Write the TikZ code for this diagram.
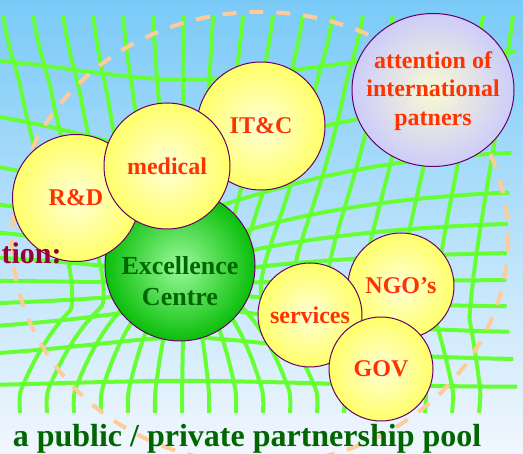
\documentclass[tikz,border=0pt]{standalone}
\usepackage{fontspec}
\setmainfont{Liberation Serif}
\usetikzlibrary{shapes.geometric}

\definecolor{skytop}{RGB}{122,202,248}
\definecolor{skybot}{RGB}{242,247,253}
\definecolor{meshgreen}{RGB}{102,255,51}
\definecolor{peach}{RGB}{255,204,153}
\definecolor{rimpurple}{RGB}{102,0,102}
\definecolor{labelred}{RGB}{255,51,0}
\definecolor{leafgreen}{RGB}{0,102,0}
\definecolor{ballin}{RGB}{155,250,155}
\definecolor{ballout}{RGB}{10,190,10}
\definecolor{bubblein}{RGB}{255,255,215}
\definecolor{bubbleout}{RGB}{255,255,105}
\definecolor{lilacin}{RGB}{250,250,212}
\definecolor{lilacout}{RGB}{204,204,250}
\definecolor{wine}{RGB}{153,0,51}

\begin{document}
\begin{tikzpicture}[x=1pt,y=-1pt,
  meshline/.style={draw=meshgreen,line width=4pt},
  poolring/.style={draw=peach,line width=4pt,dash pattern=on 14pt off 13pt},
  bubble/.style={circle,draw=rimpurple,line width=1pt,inner sep=0pt,
    shading=radial,inner color=bubblein,outer color=bubbleout,
    text=labelred,font=\fontsize{24}{28.8}\selectfont\bfseries,align=center},
  bubbletext/.style={text=labelred,font=\fontsize{24}{28.8}\selectfont\bfseries,align=center},
  declare function={
    flat(\py)=min(1,max(0,(395-\py)/75),max(0,(\py-15)/45));
    pull(\px,\py)=0.75*exp(-(((\px-185)/190)*((\px-185)/190)+((\py-285)/190)*((\py-285)/190)))*flat(\py);
    mx(\px,\py)=\px-pull(\px,\py)*(\px-185);
    my(\px,\py)=\py-pull(\px,\py)*(\py-285);
  }]
\useasboundingbox (0,0) rectangle (523,454);
\shade[top color=skytop,bottom color=skybot] (0,0) rectangle (523,454);

% warped mesh
\begin{scope}
  \clip (0,0) rectangle (523,454);
  \foreach \i in {0,...,17}
    \draw[meshline] plot[smooth,domain=0:1,samples=40,variable=\t]
      ({mx(3+30*\i+(17-3*\i)*\t,15+398*\t)},{my(3+30*\i+(17-3*\i)*\t,15+398*\t)});
  \foreach \h in {50,100,150,190,222,252,280,307,333,360,387}
    \draw[meshline] plot[smooth,domain=-200:518,samples=50]
      ({mx(\x,\h)},{my(\x,\h)});
\end{scope}

\draw[poolring] (260,238) ellipse [x radius=248,y radius=226];

\node[bubble,shading=radial,inner color=ballin,outer color=ballout,minimum size=150pt] (exc) at (180,266) {};
\node[text=leafgreen,font=\fontsize{26}{31.5}\selectfont\bfseries,align=center] (exctext) at (180,281) {Excellence\\Centre};
\node[bubble,minimum size=128pt] (itc) at (261,126) {IT\&C};
\node[bubble,minimum size=127pt] (rnd) at (76,198) {R\&D};
\node[bubble,minimum size=126pt] (med) at (167,166) {medical};
\node[bubble,ellipse,inner color=lilacin,outer color=lilacout,minimum width=162pt,minimum height=153pt] (attn) at (433,90) {};
\node[bubbletext] (attntext) at (433,91) {attention of\\international\\patners};
\node[bubble,minimum size=106pt] (ngo) at (401,286) {NGO’s};
\node[bubble,minimum size=104pt] (serv) at (310,315) {services};
\node[bubble,minimum size=104pt] (gov) at (381,369) {GOV};

\node[text=wine,font=\fontsize{30}{36}\selectfont\bfseries,anchor=base west] (cut) at (-2,264) {tion:};
\node[text=leafgreen,font=\fontsize{32}{38}\selectfont\bfseries,anchor=base] (pool) at (247,447) {a public / private partnership pool};
\end{tikzpicture}
\end{document}
